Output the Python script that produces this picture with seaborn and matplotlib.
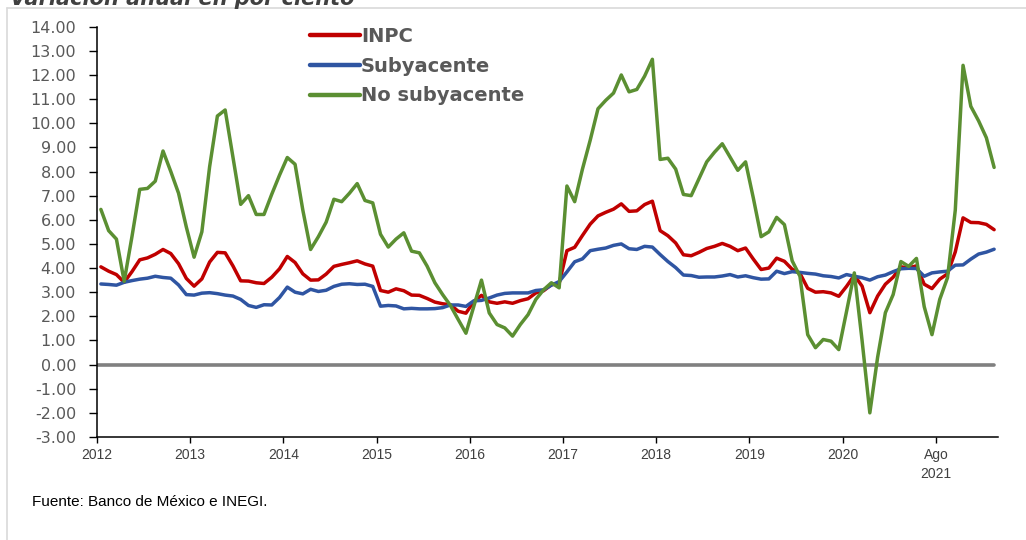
import numpy as np
import pandas as pd
import matplotlib
matplotlib.use("Agg")
import matplotlib.pyplot as plt
from matplotlib.lines import Line2D
import seaborn as sns

# ---------------- data (annual % change, Jan 2012 - Aug 2021) ----------------
inpc = [4.05, 3.87, 3.73, 3.41, 3.85, 4.34, 4.42, 4.57, 4.77, 4.60, 4.18, 3.57,
        3.25, 3.55, 4.25, 4.65, 4.63, 4.09, 3.47, 3.46, 3.39, 3.36, 3.62, 3.97,
        4.48, 4.23, 3.76, 3.50, 3.51, 3.75, 4.07, 4.15, 4.22, 4.30, 4.17, 4.08,
        3.07, 3.00, 3.14, 3.06, 2.88, 2.87, 2.74, 2.59, 2.52, 2.48, 2.21, 2.13,
        2.61, 2.87, 2.60, 2.54, 2.60, 2.54, 2.65, 2.73, 2.97, 3.06, 3.31, 3.36,
        4.72, 4.86, 5.35, 5.82, 6.16, 6.31, 6.44, 6.66, 6.35, 6.37, 6.63, 6.77,
        5.55, 5.34, 5.04, 4.55, 4.51, 4.65, 4.81, 4.90, 5.02, 4.90, 4.72, 4.83,
        4.37, 3.94, 4.00, 4.41, 4.28, 3.95, 3.78, 3.16, 3.00, 3.02, 2.97, 2.83,
        3.24, 3.70, 3.25, 2.15, 2.84, 3.33, 3.62, 4.05, 4.01, 4.09, 3.33, 3.15,
        3.54, 3.76, 4.67, 6.08, 5.89, 5.88, 5.81, 5.59]

subyacente = [3.34, 3.32, 3.29, 3.41, 3.48, 3.54, 3.58, 3.66, 3.61, 3.58, 3.30, 2.90,
              2.88, 2.96, 2.98, 2.94, 2.88, 2.84, 2.70, 2.45, 2.37, 2.48, 2.47, 2.78,
              3.21, 3.00, 2.93, 3.12, 3.03, 3.08, 3.24, 3.33, 3.35, 3.32, 3.33, 3.24,
              2.42, 2.45, 2.43, 2.31, 2.33, 2.31, 2.31, 2.32, 2.36, 2.47, 2.47, 2.41,
              2.64, 2.66, 2.76, 2.88, 2.95, 2.97, 2.97, 2.97, 3.07, 3.10, 3.29, 3.44,
              3.84, 4.26, 4.38, 4.72, 4.78, 4.83, 4.94, 5.00, 4.80, 4.77, 4.90, 4.87,
              4.56, 4.27, 4.02, 3.71, 3.69, 3.62, 3.63, 3.63, 3.67, 3.73, 3.63, 3.68,
              3.60, 3.54, 3.55, 3.87, 3.77, 3.85, 3.82, 3.78, 3.75, 3.68, 3.65, 3.59,
              3.73, 3.66, 3.60, 3.50, 3.64, 3.71, 3.85, 3.97, 3.99, 3.98, 3.66, 3.80,
              3.84, 3.87, 4.12, 4.13, 4.37, 4.58, 4.66, 4.78]

no_subyacente = [6.43, 5.55, 5.20, 3.45, 5.30, 7.26, 7.30, 7.60, 8.85, 8.00, 7.10, 5.70,
                 4.45, 5.50, 8.20, 10.30, 10.55, 8.60, 6.64, 7.00, 6.22, 6.22, 7.06, 7.85,
                 8.58, 8.30, 6.40, 4.77, 5.30, 5.90, 6.85, 6.75, 7.10, 7.50, 6.80, 6.70,
                 5.40, 4.87, 5.20, 5.46, 4.70, 4.63, 4.08, 3.39, 2.90, 2.45, 1.87, 1.30,
                 2.40, 3.50, 2.14, 1.66, 1.52, 1.18, 1.66, 2.07, 2.70, 3.10, 3.39, 3.18,
                 7.40, 6.75, 8.10, 9.30, 10.60, 10.95, 11.25, 12.00, 11.30, 11.40, 11.95, 12.65,
                 8.50, 8.55, 8.10, 7.05, 7.00, 7.70, 8.40, 8.80, 9.15, 8.60, 8.05, 8.40,
                 6.90, 5.30, 5.50, 6.10, 5.80, 4.30, 3.66, 1.24, 0.70, 1.04, 0.97, 0.62,
                 2.20, 3.80, 1.00, -2.00, 0.30, 2.15, 2.90, 4.27, 4.07, 4.40, 2.40, 1.24,
                 2.70, 3.60, 6.40, 12.40, 10.70, 10.10, 9.40, 8.17]

series_names = ["INPC", "Subyacente", "No subyacente"]
series_colors = ["#c00000", "#2f55a2", "#5b8f32"]
x_tick_labels = ["2012", "2013", "2014", "2015", "2016", "2017", "2018",
                 "2019", "2020", "Ago\n2021"]
y_ticks = list(range(-3, 15))

months = pd.date_range("2012-01-01", periods=len(inpc), freq="MS")
pos = np.arange(len(months)) + 0.5   # category centres (between-tick-marks axis)

df = pd.concat([
    pd.DataFrame({"pos": pos, "fecha": months, "valor": vals, "serie": name})
    for name, vals in zip(series_names, [inpc, subyacente, no_subyacente])
], ignore_index=True)

# ---------------- figure ----------------
sns.set_theme(style="white")
plt.rcParams["font.family"] = ["DejaVu Sans"]

fig = plt.figure(figsize=(10.26, 5.40), dpi=100)
ax = fig.add_axes([97 / 1026, 1 - 437 / 540, (998 - 97) / 1026, (437 - 26.7) / 540])

ax.axhline(0, color="#808080", linewidth=2.6, xmin=0, xmax=115.5 / 116, zorder=1)

sns.lineplot(data=df, x="pos", y="valor", hue="serie", hue_order=series_names,
             palette=dict(zip(series_names, series_colors)), linewidth=2.5,
             ax=ax, legend=True, zorder=3)

ax.set_xlim(0, 116)
ax.set_ylim(-3, 14)
ax.set_xlabel("")
ax.set_ylabel("")

ax.set_yticks(y_ticks)
ax.set_yticklabels([f"{v:.2f}" for v in y_ticks], fontsize=11.5, color="#595959")
ax.set_xticks(np.arange(0, 12 * len(x_tick_labels), 12))
ax.set_xticklabels(x_tick_labels, fontsize=10, color="#404040",
                   family=["Liberation Sans Narrow", "Liberation Sans", "DejaVu Sans"],
                   linespacing=1.45)
ax.tick_params(axis="y", direction="out", length=6, width=1.0, color="#000000",
               left=True, pad=9)
ax.tick_params(axis="x", direction="out", length=4, width=1.0, color="#000000",
               bottom=True, pad=4)

for side in ["top", "right"]:
    ax.spines[side].set_visible(False)
for side in ["left", "bottom"]:
    ax.spines[side].set_color("#000000")
    ax.spines[side].set_linewidth(1.1)

leg = ax.legend(loc="upper left", bbox_to_anchor=(0.228, 1.018), frameon=False,
                prop={"weight": "bold", "size": 14}, handlelength=2.55,
                handletextpad=0.05, labelspacing=0.55, borderaxespad=0)
for txt in leg.get_texts():
    txt.set_color("#595959")
for h in leg.get_lines():
    h.set_linewidth(3.2)

# title, cut off at the top edge as in the source image
fig.text(10 / 1026, 1 - 5 / 540, "Variación anual en por ciento", fontsize=15,
         fontweight="bold", fontstyle="italic", color="#404040", va="baseline",
         ha="left")

# source note
fig.text(32 / 1026, 1 - 502 / 540, "Fuente: Banco de México e INEGI.", fontsize=11,
         color="#000000", va="center", ha="left",
         family=["Liberation Sans Narrow", "Liberation Sans", "DejaVu Sans"])

# light frame around the chart
fig.add_artist(Line2D([7 / 1026, 1], [1 - 8 / 540, 1 - 8 / 540],
                      transform=fig.transFigure, color="#d9d9d9", linewidth=1.2))
fig.add_artist(Line2D([7 / 1026, 7 / 1026], [0, 1 - 8 / 540],
                      transform=fig.transFigure, color="#d9d9d9", linewidth=1.2))

fig.savefig("out.png", dpi=100)
